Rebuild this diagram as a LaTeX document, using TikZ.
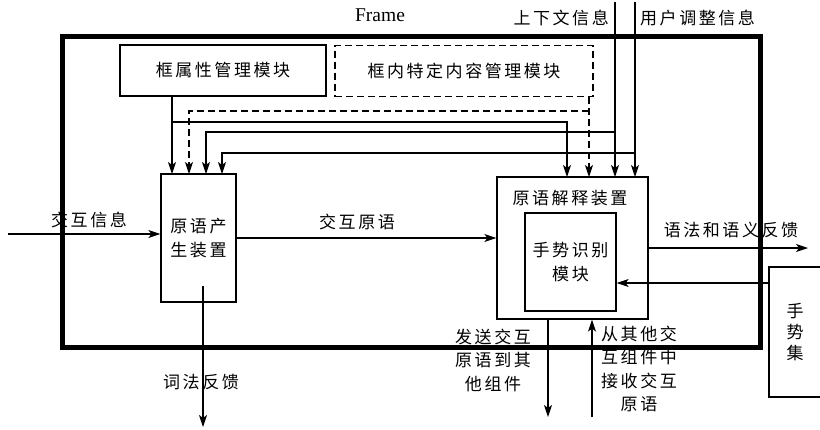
\documentclass[tikz,border=0pt]{standalone}
\usepackage{fontspec}
\newfontfamily\cjk[LetterSpace=15]{Noto Sans CJK SC}
\newfontfamily\latin{Liberation Serif}
\usetikzlibrary{arrows.meta,positioning}

\begin{document}
\begin{tikzpicture}[x=1pt,y=-1pt,
        modbox/.style={
            draw,
            line width=1.2pt,
            minimum height=51pt,
            inner sep=0pt,
            font=\cjk\fontsize{17}{23.5}\selectfont
        },
        devbox/.style={
            draw,
            line width=1.2pt,
            inner sep=0pt,
            align=center,
            font=\cjk\fontsize{17}{23.5}\selectfont
        },
        txt/.style={
            inner sep=0pt,
            align=center,
            font=\cjk\fontsize{17}{23.5}\selectfont
        },
        dashline/.style={
            dash pattern=on 7pt off 4pt
        },
        arr/.style={
            -{Stealth[length=12pt,width=8pt,inset=3pt]},
            line width=1.1pt
        }
    ]

    \useasboundingbox (0,0) rectangle (820,429);

    \draw[line width=5pt] (62,36) rectangle (760,347);
    \node[font=\latin\fontsize{19.5}{22}\selectfont] (framelbl) at (380,15) {Frame};

    \node[modbox, minimum width=206pt] (attr) at (223,70.5) {框属性管理模块};
    \node[modbox, minimum width=258pt, dashline] (content) at (464,71) {框内特定内容管理模块};

    \node[devbox, minimum width=75pt, minimum height=128pt] (gen) at (198.5,238) {原语产\\生装置};
    \node[devbox, minimum width=151pt, minimum height=142pt] (interp) at (572.5,248) {};
    \node[txt] (interplbl) at (570,198) {原语解释装置};
    \node[devbox, minimum width=91pt, minimum height=98pt] (gesture) at (570.5,262) {手势识别\\模块};
    \node[devbox, minimum width=52pt, minimum height=130pt, font=\cjk\fontsize{17}{21}\selectfont] (gset) at (795,332) {手\\势\\集};

    \foreach \n/\x in {1/172,2/189,3/206,4/222}{
        \coordinate (gin\n) at (\x,174);
    }
    \foreach \n/\x in {1/567,2/589,3/615,4/635}{
        \coordinate (iin\n) at (\x,177);
    }
    \coordinate (ctxtop) at (615,2);
    \coordinate (usrtop) at (635,2);
    \coordinate (cntrow) at (0,111);
    \coordinate (attrrow) at (0,122);
    \coordinate (ctxrow) at (0,132);
    \coordinate (usrrow) at (0,153);

    \node[txt, anchor=east] (ctxlbl) at (609,18) {上下文信息};
    \node[txt, anchor=west] (usrlbl) at (640,18) {用户调整信息};

    \draw[arr] (attr.south -| gin1) -- (gin1);
    \draw[arr] (gin1 |- attrrow) -| (iin1);
    \draw[arr, dashline] (content.south -| iin2) -- (iin2);
    \draw[arr, dashline] (iin2 |- cntrow) -| (gin2);
    \draw[arr] (ctxtop) -- (iin3);
    \draw[arr] (iin3 |- ctxrow) -| (gin3);
    \draw[arr] (usrtop) -- (iin4);
    \draw[arr] (iin4 |- usrrow) -| (gin4);

    \coordinate (infoin) at (8,234);
    \draw[arr] (infoin) -- (infoin -| gen.west);
    \node[txt] (infolbl) at (89,220) {交互信息};

    \draw[arr] (gen.east) -- (gen.east -| interp.west);
    \node[txt] (primlbl) at (357,222) {交互原语};

    \coordinate (lexin) at (203,286);
    \coordinate (lexout) at (203,427);
    \draw[arr] (lexin) -- (lexout);
    \node[txt] (lexlbl) at (201,382) {词法反馈};

    \coordinate (synout) at (808,248);
    \draw[arr] (interp.east) -- (synout);
    \node[txt] (synlbl) at (731,230) {语法和语义反馈};

    \coordinate (gsetout) at (769,283);
    \draw[arr] (gsetout) -- (gsetout -| gesture.east);

    \coordinate (sendout) at (548,417);
    \draw[arr] (sendout |- interp.south) -- (sendout);
    \node[txt] (sendlbl) at (493,360) {发送交互\\原语到其\\他组件};

    \coordinate (recvin) at (592,417);
    \draw[arr] (recvin) -- (recvin |- interp.south);
    \node[txt] (recvlbl) at (639,369) {从其他交\\互组件中\\接收交互\\原语};

\end{tikzpicture}
\end{document}
